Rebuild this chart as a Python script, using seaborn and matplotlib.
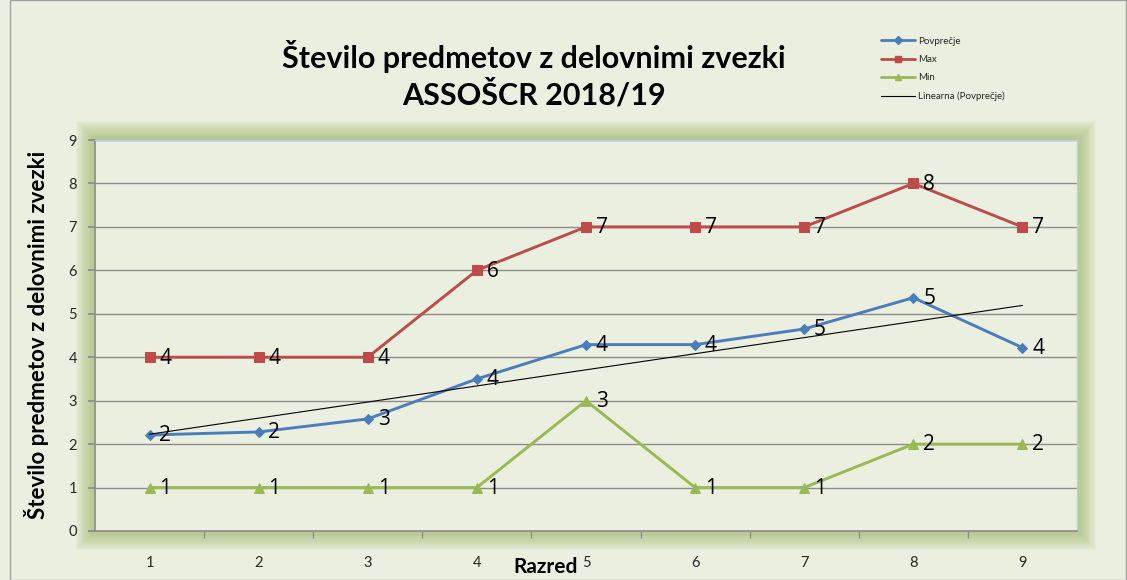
import numpy as np
import pandas as pd
import matplotlib
matplotlib.use("Agg")
import matplotlib.pyplot as plt
import seaborn as sns
from matplotlib.patches import Rectangle
from matplotlib.lines import Line2D

# ---- data ----
razred = [1, 2, 3, 4, 5, 6, 7, 8, 9]
povprecje = [2.21, 2.28, 2.58, 3.50, 4.29, 4.29, 4.65, 5.37, 4.22]
maks = [4, 4, 4, 6, 7, 7, 7, 8, 7]
mini = [1, 1, 1, 1, 3, 1, 1, 2, 2]
series_names = ["Povprečje", "Max", "Min"]
trend_name = "Linearna (Povprečje)"
title = "Število predmetov z delovnimi zvezki\nASSOŠCR 2018/19"
ylabel = "Število predmetov z delovnimi zvezki"
xlabel = "Razred"
yticks = list(range(0, 10))

sns.set_theme(style="white")
plt.rcParams["font.family"] = ["Lato", "DejaVu Sans"]
plt.rcParams["text.color"] = "black"

BG = "#EBEFDF"
colors = {"Povprečje": "#4A7EBB", "Max": "#BE4B48", "Min": "#98B954"}
markers = {"Povprečje": "D", "Max": "s", "Min": "^"}
msize = {"Povprečje": 5.5, "Max": 6.5, "Min": 6.5}

df = pd.DataFrame({
    "Razred": razred * 3,
    "val": povprecje + maks + mini,
    "serija": ["Povprečje"] * 9 + ["Max"] * 9 + ["Min"] * 9,
})

W, H = 1127, 580
fig = plt.figure(figsize=(W / 100, H / 100), dpi=100, facecolor=BG)

# outer border
fig.patches.append(Rectangle((10 / W, 0.0), (W - 11) / W, 1.0, transform=fig.transFigure,
                             fill=False, edgecolor="#A0A0A0", lw=1.0, zorder=-20))

L, R, T, B = 95, 1077, 140, 531
ax_rect = [L / W, 1 - B / H, (R - L) / W, (B - T) / H]

# glow around plot area (behind the axes)
for i in range(16, 0, -1):
    pad = i * 1.2
    fig.patches.append(Rectangle(((L - pad) / W, 1 - (B + pad) / H), (R - L + 2 * pad) / W,
                                 (B - T + 2 * pad) / H, transform=fig.transFigure,
                                 facecolor="#9FB86A", edgecolor="none",
                                 alpha=0.06, zorder=-10))

ax = fig.add_axes(ax_rect)
ax.set_zorder(5)
ax.set_facecolor(BG)

for name in series_names:
    sub = df[df["serija"] == name]
    sns.lineplot(data=sub, x="Razred", y="val", ax=ax, color=colors[name],
                 marker=markers[name], markersize=msize[name], markeredgecolor=colors[name],
                 lw=2.1, legend=False, zorder=4)
    for xv, yv in zip(sub["Razred"], sub["val"]):
        ax.text(xv + 0.09, yv - 0.02, f"{yv:.0f}", fontsize=15, va="center", ha="left",
                color="black", zorder=6, family=["Open Sans", "DejaVu Sans"])

# trend line
k, n = np.polyfit(razred, povprecje, 1)
xs = np.array([razred[0], razred[-1]])
sns.lineplot(x=xs, y=k * xs + n, ax=ax, color="black", lw=0.8, legend=False, zorder=5)

ax.set_xlim(0.5, 9.5)
ax.set_ylim(0, 9)
ax.set_yticks(yticks)
ax.set_xticks(razred)
ax.grid(axis="y", color="#8C8C8C", lw=1.0)
ax.set_axisbelow(True)
ax.tick_params(axis="y", which="major", left=True, length=5, color="#8C8C8C",
               labelsize=10.5, labelcolor="#262626", pad=8)
ax.tick_params(axis="x", which="major", bottom=False, labelsize=10.5,
               labelcolor="#262626", pad=12)
ax.set_xticks(np.arange(1.5, 9.5, 1.0), minor=True)
ax.tick_params(axis="x", which="minor", bottom=True, length=5, color="#8C8C8C")
for s in ["left", "bottom"]:
    ax.spines[s].set_color("#8C8C8C")
    ax.spines[s].set_linewidth(1.2)
for s in ["top", "right"]:
    ax.spines[s].set_color("#B9CDE5")
    ax.spines[s].set_linewidth(1.0)

ax.set_xlabel("")
ax.set_ylabel("")
fig.text(546 / W, 1 - 567 / H, xlabel, ha="center", va="center", fontsize=15,
         fontweight="bold", color="black")
fig.text(37 / W, 1 - 335 / H, ylabel, ha="center", va="center", rotation=90,
         fontsize=16, fontweight="bold", color="black")
fig.text(534 / W, 1 - 75 / H, title, ha="center", va="center", fontsize=22,
         fontweight="bold", linespacing=1.3, color="black")

handles = [Line2D([], [], color=colors[nm], marker=markers[nm], markersize=4, lw=2)
           for nm in series_names]
handles.append(Line2D([], [], color="black", lw=0.8))
fig.legend(handles, series_names + [trend_name], loc="upper left",
           bbox_to_anchor=(872 / W, 1 - 28 / H), frameon=False, fontsize=7,
           handlelength=3.5, labelspacing=0.95, handletextpad=0.3, labelcolor="#262626")

fig.savefig("out.png", dpi=100, facecolor=BG)
